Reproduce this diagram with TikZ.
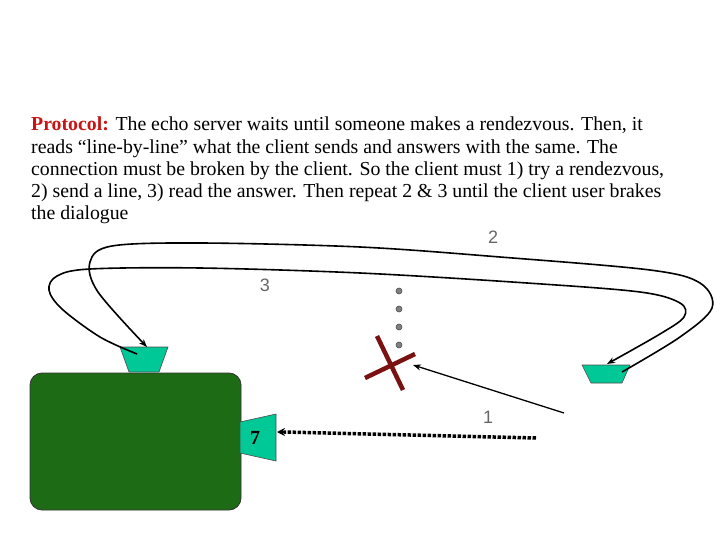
\documentclass[tikz,border=0pt]{standalone}
\usepackage{fontspec}
\setmainfont{Liberation Serif}
\newfontfamily\lblfont{Liberation Sans}
\usetikzlibrary{arrows.meta,calc}
\definecolor{boxgreen}{RGB}{30,107,22}
\definecolor{teal1}{RGB}{0,200,150}
\definecolor{xred}{RGB}{122,18,18}
\definecolor{protred}{RGB}{200,20,20}
\tikzset{
  port/.style={fill=teal1,draw=black!70,line width=0.6pt},
  link/.style={line width=1.6pt,-{Stealth[length=8pt,width=6pt]}},
  lbl/.style={font=\lblfont\fontsize{18}{18}\selectfont,text=black!60},
  dot/.style={circle,fill=gray,draw=black!70,line width=0.6pt,inner sep=0pt,minimum size=6pt},
}
\begin{document}
\begin{tikzpicture}[x=1pt,y=1pt]
\useasboundingbox (0,0) rectangle (720,-540);
% text
\node[anchor=base west,inner sep=0pt,align=left,font=\fontsize{19.8}{22.3}\selectfont] (txt) at (31,-220)
{\textcolor{protred}{\textbf{Protocol:}} The echo server waits until someone makes a rendezvous. Then, it\\
reads “line-by-line” what the client sends and answers with the same. The\\
connection must be broken by the client. So the client must 1) try a rendezvous,\\
2) send a line, 3) read the answer. Then repeat 2 \& 3 until the client user brakes\\
the dialogue};
% server box
\draw[fill=boxgreen,draw=black!80,line width=0.8pt,rounded corners=12pt] (30,-373) rectangle (241,-510);
% top port of server
\draw[port] (120,-347) -- (168,-347) -- (159,-372) -- (129,-372) -- cycle;
% side port
\draw[port] (240,-422) -- (276,-414) -- (276,-461) -- (240,-453) -- cycle;
\node[font=\bfseries\fontsize{20}{20}\selectfont] (seven) at (255,-438) {7};
% client port
\draw[port] (582,-365) -- (630,-365) -- (622,-383) -- (591,-383) -- cycle;
% coordinates
\coordinate (ltop) at (147,-347);
\coordinate (lin) at (137,-354);
\coordinate (rin) at (622,-372);
\coordinate (rtop) at (607,-364);
% curve 1
\draw[link] plot[smooth,tension=0.55] coordinates {(rin) (680,-337) (712,-308) (700,-283) (650,-270) (500,-257) (360,-247) (200,-243) (112,-246) (90,-262) (98,-292) (ltop)};
% curve 2
\draw[link] plot[smooth,tension=0.55] coordinates {(lin) (100,-337) (62,-309) (49,-290) (57,-276) (90,-269) (200,-268) (360,-273) (527,-283) (640,-292) (680,-303) (684,-317) (660,-334) (rtop)};
% labels
\node[lbl] (l2) at (493,-237) {2};
\node[lbl] (l3) at (265,-285) {3};
\node[lbl] (l1) at (488,-417) {1};
% dots
\foreach \yy [count=\i] in {291,309,327,345} \node[dot] (d\i) at (399,-\yy) {};
% X
\coordinate (xa1) at (377,-336); \coordinate (xa2) at (403,-390);
\coordinate (xb1) at (365,-378); \coordinate (xb2) at (415,-354);
\draw[xred,line width=4.5pt] (xa1) -- (xa2);
\draw[xred,line width=4.5pt] (xb1) -- (xb2);
% arrow 1
\coordinate (a1s) at (564,-413);
\coordinate (a1e) at (413,-365);
\draw[line width=1.3pt,-{Stealth[length=8pt,width=6pt]}] (a1s) -- (a1e);
% dotted line
\coordinate (ds) at (536,-438);
\coordinate (de) at (277,-432);
\draw[line width=3.5pt,dash pattern=on 3.5pt off 1.5pt] (ds) -- ($(de)+(7,0)$);
\draw[line width=1.5pt,-{Stealth[length=8pt,width=8pt]}] ($(de)+(8,0)$) -- (de);
\end{tikzpicture}
\end{document}
